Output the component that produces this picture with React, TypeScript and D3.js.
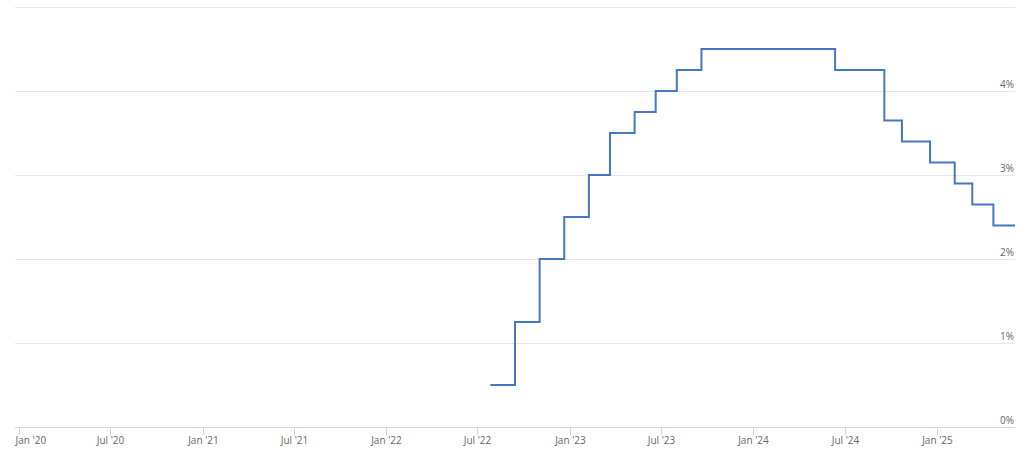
import React from "react";
import * as d3 from "d3";

const stepDates: string[] = [
  "2022-07-27", "2022-09-14", "2022-11-02", "2022-12-21", "2023-02-08",
  "2023-03-22", "2023-05-10", "2023-06-21", "2023-08-02", "2023-09-20",
  "2024-06-12", "2024-09-18", "2024-10-23", "2024-12-18", "2025-02-05",
  "2025-03-12", "2025-04-23", "2025-06-05",
];
const rateValues: number[] = [
  0.5, 1.25, 2.0, 2.5, 3.0, 3.5, 3.75, 4.0, 4.25, 4.5,
  4.25, 3.65, 3.4, 3.15, 2.9, 2.65, 2.4, 2.4,
];
const xTickDates: string[] = [
  "2020-01-01", "2020-07-01", "2021-01-01", "2021-07-01", "2022-01-01",
  "2022-07-01", "2023-01-01", "2023-07-01", "2024-01-01", "2024-07-01", "2025-01-01",
];
const xTickLabels: string[] = [
  "Jan '20", "Jul '20", "Jan '21", "Jul '21", "Jan '22", "Jul '22",
  "Jan '23", "Jul '23", "Jan '24", "Jul '24", "Jan '25",
];
const yTicks: number[] = [0, 1, 2, 3, 4, 5];
const yTickLabels: string[] = ["0%", "1%", "2%", "3%", "4%", ""];

const W = 1024;
const H = 457;
const left = 15;
const right = 1015;
const top = 7;
const bottom = 427;

export default function App() {
  const parse = d3.utcParse("%Y-%m-%d");
  const x = d3
    .scaleUtc()
    .domain([parse("2019-12-24")!, parse("2025-06-05")!])
    .range([left, right]);
  const y = d3.scaleLinear().domain([0, 5]).range([bottom, top]);

  const data = stepDates.map((d, i) => ({ date: parse(d)!, v: rateValues[i] }));
  const line = d3
    .line<{ date: Date; v: number }>()
    .x((d) => x(d.date))
    .y((d) => y(d.v))
    .curve(d3.curveStepAfter);

  const font = "'Open Sans', 'DejaVu Sans', sans-serif";

  return (
    <svg
      width={W}
      height={H}
      style={{ position: "absolute", left: 0, top: 0, background: "#fff" }}
    >
      {yTicks.map((t, i) => (
        <g key={t}>
          {t > 0 && (
            <line
              x1={left}
              x2={right}
              y1={y(t) + 0.5}
              y2={y(t) + 0.5}
              stroke="#e6e6e6"
              strokeWidth={1}
            />
          )}
          {yTickLabels[i] && (
            <text
              x={right - 1}
              y={y(t) - 3}
              textAnchor="end"
              fontFamily={font}
              fontSize={10}
              fill="#666"
            >
              {yTickLabels[i]}
            </text>
          )}
        </g>
      ))}
      <line
        x1={left}
        x2={right}
        y1={bottom + 0.5}
        y2={bottom + 0.5}
        stroke="#ccd6eb"
        strokeWidth={1}
      />
      {xTickDates.map((d, i) => {
        const xx = Math.round(x(parse(d)!)) + 0.5;
        return (
          <g key={d}>
            <line x1={xx} x2={xx} y1={bottom} y2={bottom + 8} stroke="#ccd6eb" strokeWidth={1} />
            <text
              x={i === 0 ? xx - 4 : xx}
              y={bottom + 17}
              textAnchor={i === 0 ? "start" : "middle"}
              fontFamily={font}
              fontSize={10}
              fill="#666"
            >
              {xTickLabels[i]}
            </text>
          </g>
        );
      })}
      <path d={line(data) || ""} fill="none" stroke="#4577c5" strokeWidth={2} />
    </svg>
  );
}
